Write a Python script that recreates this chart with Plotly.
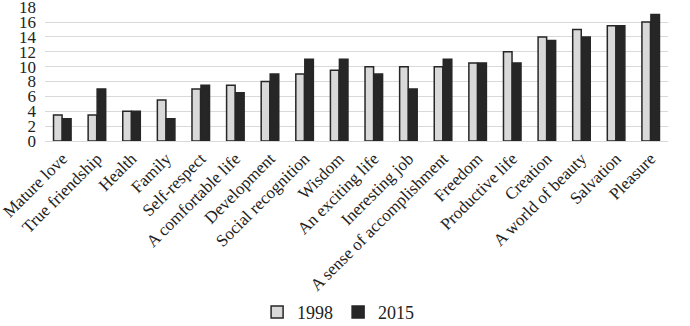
import plotly.graph_objects as go

categories = ["Mature love", "True friendship", "Health", "Family", "Self-respect",
              "A comfortable life", "Development", "Social recognition", "Wisdom",
              "An exciting life", "Ineresting job", "A sense of accomplishment",
              "Freedom", "Productive life", "Creation", "A world of beauty",
              "Salvation", "Pleasure"]
v1998 = [3.5, 3.5, 4, 5.5, 7, 7.5, 8, 9, 9.5, 10, 10, 10, 10.5, 12, 14, 15, 15.5, 16]
v2015 = [3, 7, 4, 3, 7.5, 6.5, 9, 11, 11, 9, 7, 11, 10.5, 10.5, 13.5, 14, 15.5, 17]
yticks = [0, 2, 4, 6, 8, 10, 12, 14, 16, 18]

fig = go.Figure()
fig.add_trace(go.Bar(x=categories, y=v1998, name="1998",
                     marker=dict(color="#d9d9d9", line=dict(color="#262626", width=1.5))))
fig.add_trace(go.Bar(x=categories, y=v2015, name="2015",
                     marker=dict(color="#262626", line=dict(color="#262626", width=1.5))))

fig.update_layout(
    width=690, height=326,
    margin=dict(l=45, r=22, t=7, b=185, autoexpand=False),
    plot_bgcolor="white", paper_bgcolor="white",
    font=dict(family="Liberation Serif, Times New Roman, serif", size=17, color="#222"),
    barmode="group", bargap=0.48, bargroupgap=0.05,
    showlegend=True,
    legend=dict(orientation="h", x=0.49, xanchor="center", xref="container",
                y=0.042, yanchor="middle", yref="container",
                bgcolor="rgba(0,0,0,0)", font=dict(size=18), traceorder="normal",
                itemwidth=30),
    xaxis=dict(tickangle=-45, showline=True, linecolor="#d9d9d9", linewidth=1,
               ticks="", tickfont=dict(size=17), automargin=False),
    yaxis=dict(range=[0, 18.02], tickvals=yticks, showgrid=True, gridcolor="#d9d9d9",
               gridwidth=1, zeroline=False, ticks="", tickfont=dict(size=17),
               automargin=False, ticklabeloverflow="allow", ticklabelstandoff=8),
)

fig.write_html("out.html")
